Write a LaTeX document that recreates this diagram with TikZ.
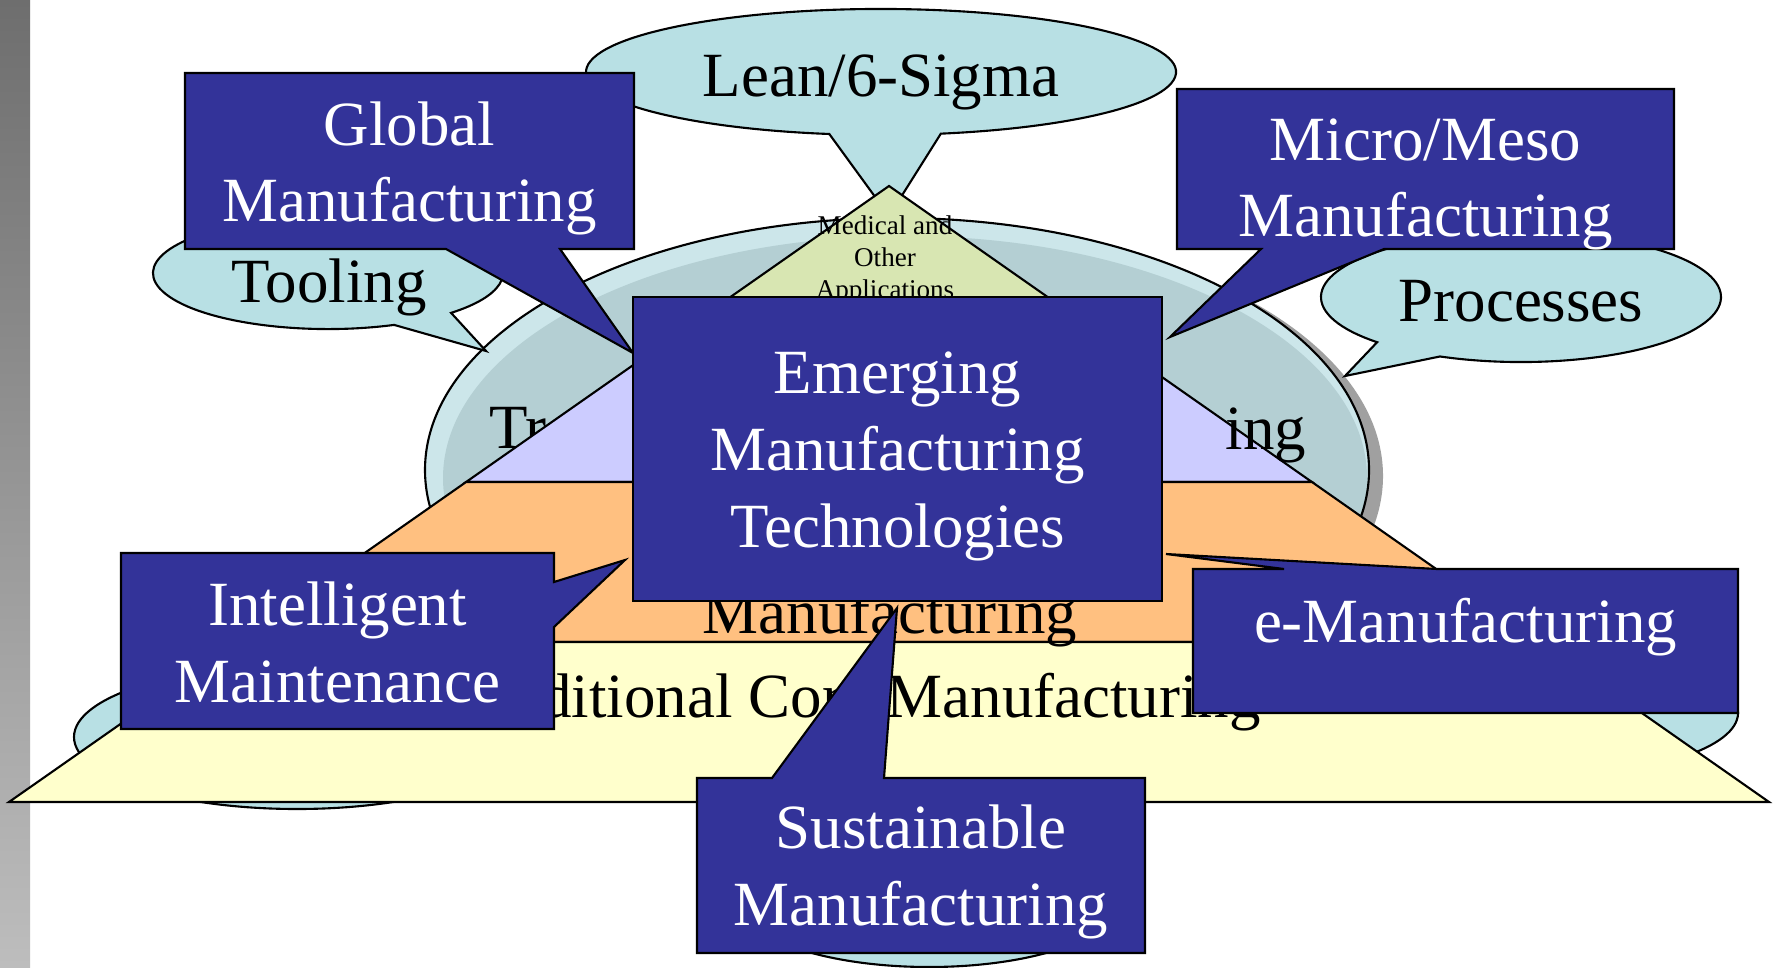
\documentclass[tikz,border=0pt]{standalone}
\usepackage{fontspec}
\setmainfont{Liberation Serif}
\usepackage{tikz}

\definecolor{boxblue}{HTML}{333399}
\definecolor{bubbleblue}{HTML}{B8E0E4}
\definecolor{ringblue}{HTML}{CCE6EA}
\definecolor{coreblue}{HTML}{B4CFD3}
\definecolor{shadowgray}{HTML}{A0A0A0}
\definecolor{topgreen}{HTML}{D8E6B2}
\definecolor{lavender}{HTML}{CCCCFF}
\definecolor{peach}{HTML}{FFC080}
\definecolor{cream}{HTML}{FFFFCC}
\definecolor{bartop}{HTML}{6E6E6E}
\definecolor{barbottom}{HTML}{BDBDBD}

\begin{document}
\begin{tikzpicture}[x=0.01cm, y=-0.01cm, line width=0.6pt]

\tikzstyle{every node} = [inner sep=0pt, anchor=base, align=center]
\tikzstyle{bluebox} = [fill=boxblue, draw=black]
\tikzstyle{bubble} = [fill=bubbleblue, draw=black]
\tikzstyle{bigtext} = [font=\fontsize{17.9pt}{21.8pt}\selectfont]
\tikzstyle{smalltext} = [font=\fontsize{7.7pt}{9pt}\selectfont]
\tikzstyle{whitetext} = [bigtext, text=white]

\useasboundingbox (0,0) rectangle (1774,967);
\fill[white] (0,0) rectangle (1774,967);
\shade[top color=bartop, bottom color=barbottom] (0,0) rectangle (30,967);

% big ellipse behind the pyramid
\fill[shadowgray] (911,476) ellipse [x radius=472, y radius=252];
\fill[ringblue] (897,470) ellipse [x radius=472, y radius=252];
\fill[coreblue] (905,478) ellipse [x radius=462, y radius=242];
\draw (897,470) ellipse [x radius=472, y radius=252];
\node[bigtext, anchor=base west] (tr) at (488,448) {Tr};

% bubbles
\filldraw[bubble] (297,737) ellipse [x radius=223, y radius=72];
\filldraw[bubble] (1550,713) ellipse [x radius=188, y radius=62];
\filldraw[bubble] (929,901) ellipse [x radius=190, y radius=66];

\filldraw[bubble] (829.3,134) arc[start angle=100.1, end angle=438.3, x radius=295, y radius=63] -- (889,216) -- cycle;
\filldraw[bubble] (394.1,324.9) arc[start angle=67.8, end angle=405.3, x radius=175, y radius=56] -- (486,351) -- cycle;
\filldraw[bubble] (1377.1,342.2) arc[start angle=136, end angle=473.9, x radius=200, y radius=65] -- (1345,376) -- cycle;

\node[bigtext] (lean) at (881,97) {Lean/6-Sigma};
\node[bigtext] (tool) at (329,302) {Tooling};
\node[bigtext] (proc) at (1521,321) {Processes};

% pyramid
\filldraw[fill=topgreen] (889,186) -- (1083.3,322) -- (694.7,322) -- cycle;
\filldraw[fill=lavender] (694.7,322) -- (1083.3,322) -- (1311.9,482) -- (466.1,482) -- cycle;
\filldraw[fill=peach] (466.1,482) -- (1311.9,482) -- (1540.4,642) -- (237.6,642) -- cycle;
\filldraw[fill=cream] (237.6,642) -- (1540.4,642) -- (1769,802) -- (9,802) -- cycle;

\node[smalltext] (med) at (885,298) {Medical and\\Other\\Applications};
\node[bigtext] (adv) at (890,633) {Manufacturing};
\node[bigtext] (core) at (858,717) {Traditional Core Manufacturing};
\node[bigtext, anchor=base east] (ing) at (1307,449) {ing};

% callout boxes
\filldraw[bluebox] (185,73) -- (634,73) -- (634,249) -- (560,249) -- (633,353) -- (446,249) -- (185,249) -- cycle;
\filldraw[bluebox] (1177,89) -- (1674,89) -- (1674,249) -- (1384,249) -- (1170,337) -- (1261,249) -- (1177,249) -- cycle;
\filldraw[bluebox] (633,297) rectangle (1162,601);
\filldraw[bluebox] (121,553) -- (554,553) -- (554,582) -- (625,560) -- (554,627) -- (554,729) -- (121,729) -- cycle;
\filldraw[bluebox] (1193,569) -- (1284,569) -- (1166,554) -- (1437,569) -- (1738,569) -- (1738,713) -- (1193,713) -- cycle;
\filldraw[bluebox] (697,778) -- (772,778) -- (897,608) -- (884,778) -- (1145,778) -- (1145,953) -- (697,953) -- cycle;

\node[whitetext] (glob) at (409.5,222) {Global\\Manufacturing};
\node[whitetext] (micro) at (1425.5,237) {Micro/Meso\\Manufacturing};
\node[whitetext] (emerg) at (897.5,547) {Emerging\\Manufacturing\\Technologies};
\node[whitetext] (intel) at (337.5,702) {Intelligent\\Maintenance};
\node[whitetext] (emfg) at (1465.5,642) {e-Manufacturing};
\node[whitetext] (sust) at (921,925) {Sustainable\\Manufacturing};

\end{tikzpicture}
\end{document}
